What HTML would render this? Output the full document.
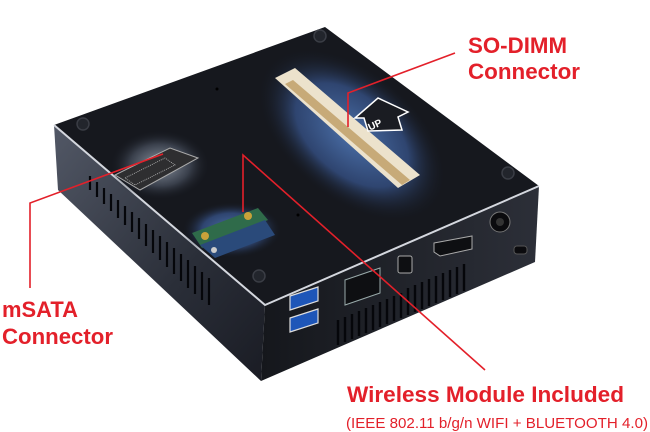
<!DOCTYPE html>
<html><head><meta charset="utf-8"><style>
html,body{margin:0;padding:0;background:#fff;width:650px;height:432px;overflow:hidden}
svg{display:block}
.t{font-family:"Liberation Sans",Arial,sans-serif;font-weight:bold;fill:#e3202a}
.s{font-family:"Liberation Sans",Arial,sans-serif;font-weight:normal;fill:#e3202a}
</style></head><body>
<svg width="650" height="432" viewBox="0 0 650 432" xmlns="http://www.w3.org/2000/svg">
<defs>
<linearGradient id="lf" x1="0" y1="0" x2="1" y2="1"><stop offset="0" stop-color="#525866"/><stop offset="0.6" stop-color="#2a2e38"/><stop offset="1" stop-color="#1a1c24"/></linearGradient>
<linearGradient id="rf" x1="0" y1="0" x2="1" y2="0"><stop offset="0" stop-color="#15171c"/><stop offset="1" stop-color="#2c2f38"/></linearGradient>
<radialGradient id="glow" cx="0.5" cy="0.5" r="0.5"><stop offset="0" stop-color="#4a6fa8"/><stop offset="0.6" stop-color="#2f4570"/><stop offset="1" stop-color="#15181f" stop-opacity="0"/></radialGradient>
<radialGradient id="glow2" cx="0.5" cy="0.5" r="0.5"><stop offset="0" stop-color="#8a93a0"/><stop offset="0.6" stop-color="#3a404c"/><stop offset="1" stop-color="#15181f" stop-opacity="0"/></radialGradient>
</defs>
<!-- left face -->
<polygon points="54,125 265,305 261,381 58,190" fill="url(#lf)"/>
<!-- right face -->
<polygon points="265,305 539,186 535,262 261,381" fill="url(#rf)"/>
<!-- top face -->
<polygon points="54,125 325,27 539,186 265,305" fill="#16181e"/>
<polyline points="54,125 265,305 539,186" fill="none" stroke="#d4d7de" stroke-width="2"/>
<!-- glow areas -->
<ellipse cx="352" cy="135" rx="110" ry="65" fill="url(#glow)" transform="rotate(40 352 135)"/>
<ellipse cx="160" cy="165" rx="50" ry="35" fill="url(#glow2)"/>
<ellipse cx="232" cy="230" rx="50" ry="28" fill="url(#glow)"/>
<!-- SO-DIMM slot -->
<polygon points="275,78 295,68 420,175 398,188" fill="#ece2cc"/>
<polygon points="285,84 293,80 410,180 402,185" fill="#c7aa78"/>
<!-- this way up -->
<polygon points="355,118 378,98 408,112 398,117 402,130 368,131 364,118" fill="#1a1c22" stroke="#fff" stroke-width="1.5"/>
<text x="367" y="127" font-family="Liberation Sans" font-weight="bold" font-size="10" fill="#fff" transform="rotate(-25 377 122)">UP</text>
<!-- mSATA connector -->
<polygon points="115,175 170,148 198,158 140,190" fill="#2e2e30" stroke="#aaa" stroke-width="1"/>
<polygon points="125,178 165,158 175,165 135,185" fill="none" stroke="#bbb" stroke-width="0.8" stroke-dasharray="1 1"/>
<!-- wifi card -->
<polygon points="192,233 258,208 268,220 202,248" fill="#2f6b4a"/>
<polygon points="200,245 265,220 275,235 215,258" fill="#2a4a7a"/>
<circle cx="248" cy="216" r="4" fill="#c9a23a"/><circle cx="205" cy="236" r="4" fill="#c9a23a"/>
<circle cx="214" cy="250" r="3" fill="#ccc"/>
<!-- screws -->
<g fill="#22252c" stroke="#3a3d45" stroke-width="1.5">
<circle cx="320" cy="36" r="6"/><circle cx="83" cy="124" r="6"/><circle cx="508" cy="173" r="6"/><circle cx="259" cy="276" r="6"/>
</g>
<circle cx="217" cy="89" r="1.5" fill="#000"/><circle cx="298" cy="215" r="1.5" fill="#000"/>
<!-- left vents -->
<g stroke="#05060a" stroke-width="2.2">
<line x1="90" y1="176" x2="90" y2="190"/><line x1="97" y1="182" x2="97" y2="197"/><line x1="104" y1="188" x2="104" y2="204"/><line x1="111" y1="194" x2="111" y2="211"/><line x1="118" y1="200" x2="118" y2="218"/><line x1="125" y1="206" x2="125" y2="225"/><line x1="132" y1="212" x2="132" y2="232"/><line x1="139" y1="218" x2="139" y2="239"/><line x1="146" y1="224" x2="146" y2="246"/><line x1="153" y1="230" x2="153" y2="253"/><line x1="160" y1="236" x2="160" y2="260"/><line x1="167" y1="242" x2="167" y2="267"/><line x1="174" y1="248" x2="174" y2="274"/><line x1="181" y1="254" x2="181" y2="281"/><line x1="188" y1="260" x2="188" y2="288"/><line x1="195" y1="266" x2="195" y2="294"/><line x1="202" y1="272" x2="202" y2="300"/><line x1="209" y1="278" x2="209" y2="305"/>
</g>
<!-- right vents -->
<g stroke="#05060a" stroke-width="2.4">
<line x1="338" y1="320" x2="338" y2="345"/><line x1="345" y1="317" x2="345" y2="342"/><line x1="352" y1="314" x2="352" y2="339"/><line x1="359" y1="311" x2="359" y2="336"/><line x1="366" y1="308" x2="366" y2="333"/><line x1="373" y1="305" x2="373" y2="330"/><line x1="380" y1="302" x2="380" y2="327"/><line x1="387" y1="299" x2="387" y2="324"/><line x1="394" y1="296" x2="394" y2="321"/><line x1="401" y1="293" x2="401" y2="318"/><line x1="408" y1="288" x2="408" y2="315"/><line x1="415" y1="285" x2="415" y2="312"/><line x1="422" y1="282" x2="422" y2="309"/><line x1="429" y1="279" x2="429" y2="306"/><line x1="436" y1="276" x2="436" y2="303"/><line x1="443" y1="273" x2="443" y2="300"/><line x1="450" y1="270" x2="450" y2="297"/><line x1="457" y1="267" x2="457" y2="294"/><line x1="464" y1="264" x2="464" y2="291"/>
</g>
<!-- USB ports -->
<polygon points="290,296 318,287 318,301 290,310" fill="#1e56b8" stroke="#ddd" stroke-width="1.2"/>
<polygon points="290,318 318,309 318,323 290,332" fill="#1e56b8" stroke="#ddd" stroke-width="1.2"/>
<!-- RJ45 -->
<polygon points="345,280 380,268 380,293 345,305" fill="#0e0f12" stroke="#9aa" stroke-width="1"/>
<!-- mDP -->
<rect x="398" y="256" width="14" height="17" rx="2" fill="#0e0f12" stroke="#aaa"/>
<!-- HDMI -->
<polygon points="434,243 472,236 472,249 440,256 434,252" fill="#0e0f12" stroke="#aaa"/>
<circle cx="500" cy="222" r="10" fill="#0b0b0e" stroke="#777"/>
<circle cx="500" cy="222" r="4" fill="#333"/>
<rect x="514" y="246" width="13" height="8" rx="3" fill="#0b0b0e" stroke="#555"/>
<!-- red connector lines -->
<g stroke="#e3202a" stroke-width="1.6" fill="none">
<polyline points="455,53 348,93 348,127"/>
<polyline points="30,288 30,203 163,154"/>
<polyline points="243,212 243,155 485,370"/>
</g>
<!-- labels -->
<text class="t" x="468" y="53" font-size="22" textLength="99" lengthAdjust="spacingAndGlyphs">SO-DIMM</text>
<text class="t" x="468" y="79" font-size="22" textLength="112" lengthAdjust="spacingAndGlyphs">Connector</text>
<text class="t" x="2" y="317" font-size="22" textLength="76" lengthAdjust="spacingAndGlyphs">mSATA</text>
<text class="t" x="2" y="344" font-size="22" textLength="111" lengthAdjust="spacingAndGlyphs">Connector</text>
<text class="t" x="347" y="402" font-size="22" textLength="277" lengthAdjust="spacingAndGlyphs">Wireless Module Included</text>
<text class="s" x="346" y="428" font-size="14.5" textLength="302" lengthAdjust="spacingAndGlyphs">(IEEE 802.11 b/g/n WIFI + BLUETOOTH 4.0)</text>
</svg>
</body></html>
